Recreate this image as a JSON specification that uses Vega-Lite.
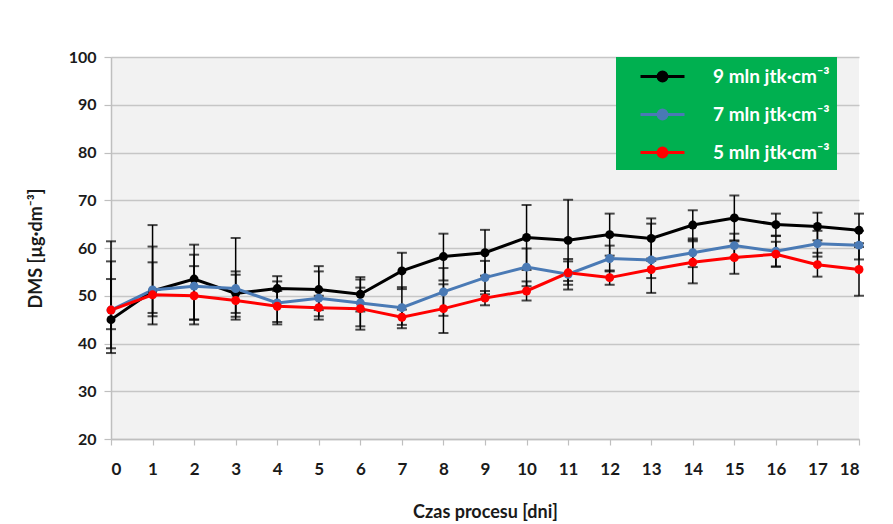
{
  "$schema": "https://vega.github.io/schema/vega-lite/v6.json",
  "width": 748,
  "height": 382,
  "autosize": {"type": "none"},
  "padding": {"left": 111, "top": 57, "right": 34, "bottom": 85},
  "background": "white",
  "config": {
    "view": {"fill": "#f2f2f2", "stroke": null},
    "font": "Lato"
  },
  "data": {"values": [
    {"day":0,"s":"9 mln jtk·cm⁻³","v":45,"lo":38,"hi":53.5},
    {"day":1,"s":"9 mln jtk·cm⁻³","v":51,"lo":44,"hi":64.8},
    {"day":2,"s":"9 mln jtk·cm⁻³","v":53.5,"lo":44,"hi":60.7},
    {"day":3,"s":"9 mln jtk·cm⁻³","v":50.5,"lo":45,"hi":55.1},
    {"day":4,"s":"9 mln jtk·cm⁻³","v":51.5,"lo":48.5,"hi":54.1},
    {"day":5,"s":"9 mln jtk·cm⁻³","v":51.3,"lo":47,"hi":56.2},
    {"day":6,"s":"9 mln jtk·cm⁻³","v":50.3,"lo":46.7,"hi":53.9},
    {"day":7,"s":"9 mln jtk·cm⁻³","v":55.2,"lo":51.4,"hi":59},
    {"day":8,"s":"9 mln jtk·cm⁻³","v":58.2,"lo":53.2,"hi":63},
    {"day":9,"s":"9 mln jtk·cm⁻³","v":59,"lo":54.2,"hi":63.8},
    {"day":10,"s":"9 mln jtk·cm⁻³","v":62.2,"lo":55.4,"hi":69},
    {"day":11,"s":"9 mln jtk·cm⁻³","v":61.6,"lo":53.1,"hi":70.1},
    {"day":12,"s":"9 mln jtk·cm⁻³","v":62.8,"lo":58.4,"hi":67.2},
    {"day":13,"s":"9 mln jtk·cm⁻³","v":62,"lo":57.8,"hi":66.2},
    {"day":14,"s":"9 mln jtk·cm⁻³","v":64.8,"lo":61.7,"hi":67.9},
    {"day":15,"s":"9 mln jtk·cm⁻³","v":66.3,"lo":61.6,"hi":71},
    {"day":16,"s":"9 mln jtk·cm⁻³","v":64.9,"lo":62.6,"hi":67.2},
    {"day":17,"s":"9 mln jtk·cm⁻³","v":64.5,"lo":61.6,"hi":67.4},
    {"day":18,"s":"9 mln jtk·cm⁻³","v":63.7,"lo":60.2,"hi":67.2},
    {"day":0,"s":"7 mln jtk·cm⁻³","v":47,"lo":39,"hi":57.2},
    {"day":1,"s":"7 mln jtk·cm⁻³","v":51.2,"lo":45.7,"hi":60.3},
    {"day":2,"s":"7 mln jtk·cm⁻³","v":52,"lo":45,"hi":58.6},
    {"day":3,"s":"7 mln jtk·cm⁻³","v":51.5,"lo":45.6,"hi":62.1},
    {"day":4,"s":"7 mln jtk·cm⁻³","v":48.5,"lo":44,"hi":53},
    {"day":5,"s":"7 mln jtk·cm⁻³","v":49.5,"lo":45,"hi":55.1},
    {"day":6,"s":"7 mln jtk·cm⁻³","v":48.5,"lo":43.6,"hi":53.4},
    {"day":7,"s":"7 mln jtk·cm⁻³","v":47.5,"lo":43.2,"hi":51.8},
    {"day":8,"s":"7 mln jtk·cm⁻³","v":50.8,"lo":45.8,"hi":55.8},
    {"day":9,"s":"7 mln jtk·cm⁻³","v":53.8,"lo":50.3,"hi":57.3},
    {"day":10,"s":"7 mln jtk·cm⁻³","v":56,"lo":52,"hi":59.9},
    {"day":11,"s":"7 mln jtk·cm⁻³","v":54.5,"lo":51.3,"hi":57.7},
    {"day":12,"s":"7 mln jtk·cm⁻³","v":57.8,"lo":55.1,"hi":60.5},
    {"day":13,"s":"7 mln jtk·cm⁻³","v":57.5,"lo":50.6,"hi":65.1},
    {"day":14,"s":"7 mln jtk·cm⁻³","v":59,"lo":56,"hi":62},
    {"day":15,"s":"7 mln jtk·cm⁻³","v":60.5,"lo":58,"hi":63},
    {"day":16,"s":"7 mln jtk·cm⁻³","v":59.3,"lo":56.1,"hi":62.5},
    {"day":17,"s":"7 mln jtk·cm⁻³","v":60.9,"lo":58.2,"hi":63.6},
    {"day":18,"s":"7 mln jtk·cm⁻³","v":60.6,"lo":57.6,"hi":63.6},
    {"day":0,"s":"5 mln jtk·cm⁻³","v":47,"lo":43,"hi":61.4},
    {"day":1,"s":"5 mln jtk·cm⁻³","v":50.2,"lo":46.4,"hi":57},
    {"day":2,"s":"5 mln jtk·cm⁻³","v":50,"lo":45,"hi":56.2},
    {"day":3,"s":"5 mln jtk·cm⁻³","v":49,"lo":46.4,"hi":54.4},
    {"day":4,"s":"5 mln jtk·cm⁻³","v":47.8,"lo":44.5,"hi":51},
    {"day":5,"s":"5 mln jtk·cm⁻³","v":47.5,"lo":45.7,"hi":50},
    {"day":6,"s":"5 mln jtk·cm⁻³","v":47.3,"lo":42.9,"hi":51.7},
    {"day":7,"s":"5 mln jtk·cm⁻³","v":45.5,"lo":43.9,"hi":47.1},
    {"day":8,"s":"5 mln jtk·cm⁻³","v":47.3,"lo":42.2,"hi":52.4},
    {"day":9,"s":"5 mln jtk·cm⁻³","v":49.5,"lo":48,"hi":51},
    {"day":10,"s":"5 mln jtk·cm⁻³","v":51,"lo":49,"hi":53},
    {"day":11,"s":"5 mln jtk·cm⁻³","v":54.8,"lo":52.3,"hi":57.2},
    {"day":12,"s":"5 mln jtk·cm⁻³","v":53.8,"lo":52.3,"hi":55.3},
    {"day":13,"s":"5 mln jtk·cm⁻³","v":55.5,"lo":53.7,"hi":57.3},
    {"day":14,"s":"5 mln jtk·cm⁻³","v":57,"lo":52.6,"hi":61.4},
    {"day":15,"s":"5 mln jtk·cm⁻³","v":58,"lo":54.6,"hi":61.4},
    {"day":16,"s":"5 mln jtk·cm⁻³","v":58.7,"lo":56.1,"hi":61.3},
    {"day":17,"s":"5 mln jtk·cm⁻³","v":56.5,"lo":54,"hi":59},
    {"day":18,"s":"5 mln jtk·cm⁻³","v":55.5,"lo":50,"hi":61}
  ]},
  "encoding": {
    "x": {
      "field": "day", "type": "quantitative",
      "scale": {"domain": [0, 18], "nice": false, "zero": false},
      "axis": {
        "title": "Czas procesu [dni]",
        "values": [0,1,2,3,4,5,6,7,8,9,10,11,12,13,14,15,16,17,18],
        "format": "d",
        "grid": false,
        "domainColor": "#bfbfbf", "domainWidth": 1.5,
        "tickColor": "#bfbfbf", "tickSize": 6, "tickWidth": 1.2,
        "labelFont": "Lato", "labelFontSize": 17, "labelFontWeight": "bold", "labelColor": "#1a1a1a",
        "labelPadding": 16,
        "titleFont": "Lato", "titleFontSize": 18, "titleFontWeight": "bold", "titleColor": "#1a1a1a",
        "titlePadding": 26
      }
    },
    "y": {
      "type": "quantitative",
      "scale": {"domain": [20, 100], "nice": false, "zero": false},
      "axis": {
        "title": "DMS [µg·dm⁻³]",
        "values": [20,30,40,50,60,70,80,90,100],
        "grid": true, "gridColor": "#c6c6c6", "gridWidth": 1.5,
        "domainColor": "#bfbfbf", "domainWidth": 1.5,
        "tickColor": "#bfbfbf", "tickSize": 7, "tickWidth": 1.2,
        "labelFont": "Lato", "labelFontSize": 16, "labelFontWeight": "bold", "labelColor": "#1a1a1a",
        "labelPadding": 8,
        "titleFont": "Lato", "titleFontSize": 18, "titleFontWeight": "bold", "titleColor": "#1a1a1a",
        "titlePadding": 23
      }
    }
  },
  "layer": [
    {
      "mark": {"type": "rule", "color": "black", "strokeWidth": 1.5},
      "encoding": {"y": {"field": "lo"}, "y2": {"field": "hi"}, "detail": {"field": "s"}}
    },
    {
      "mark": {"type": "tick", "orient": "horizontal", "color": "black", "size": 10, "thickness": 2},
      "encoding": {"y": {"field": "lo"}, "detail": {"field": "s"}}
    },
    {
      "mark": {"type": "tick", "orient": "horizontal", "color": "black", "size": 10, "thickness": 2},
      "encoding": {"y": {"field": "hi"}, "detail": {"field": "s"}}
    },
    {
      "mark": {"type": "line", "strokeWidth": 3, "point": {"filled": true, "size": 80, "opacity": 1}},
      "encoding": {
        "y": {"field": "v"},
        "color": {
          "field": "s", "type": "nominal",
          "scale": {
            "domain": ["9 mln jtk·cm⁻³", "7 mln jtk·cm⁻³", "5 mln jtk·cm⁻³"],
            "range": ["#000000", "#4a7ab5", "#ff0000"]
          },
          "legend": {
            "title": null,
            "orient": "none",
            "legendX": 505,
            "legendY": 0,
            "fillColor": "#00b050",
            "strokeColor": null,
            "cornerRadius": 0,
            "padding": 7,
            "rowPadding": 15,
            "symbolType": "M-2,0H2M-0.4,0A0.4,0.4 0 1,0 0.4,0A0.4,0.4 0 1,0 -0.4,0Z",
            "symbolSize": 484,
            "symbolStrokeWidth": 3,
            "symbolOffset": 27,
            "labelOffset": 38,
            "labelFont": "Lato",
            "labelFontSize": 19,
            "labelFontWeight": "bold",
            "labelColor": "white",
            "labelLimit": 300,
            "encode": {
              "symbols": {"update": {"fill": {"scale": "color", "field": "value"}, "opacity": {"value": 1}}}
            }
          }
        }
      }
    }
  ]
}
